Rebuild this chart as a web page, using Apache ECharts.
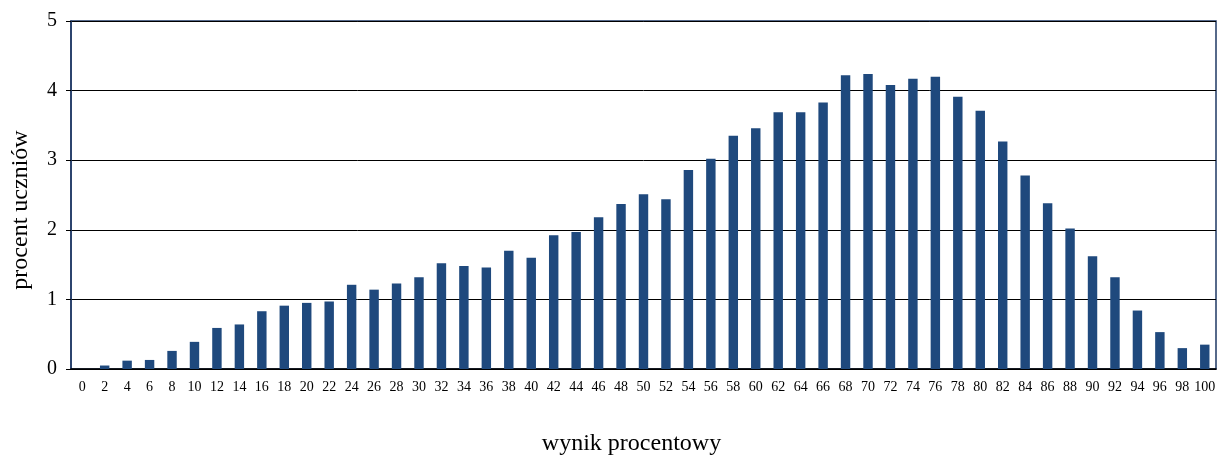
<!DOCTYPE html>
<html>
<head>
<meta charset="utf-8">
<script src="https://cdn.jsdelivr.net/npm/echarts@6/dist/echarts.min.js"></script>
<style>html,body{margin:0;padding:0;background:#fff;}#c{width:1220px;height:461px;}</style>
</head>
<body>
<div id="c"></div>
<script>
const categories = ['0','2','4','6','8','10','12','14','16','18','20','22','24','26','28','30','32','34','36','38','40','42','44','46','48','50','52','54','56','58','60','62','64','66','68','70','72','74','76','78','80','82','84','86','88','90','92','94','96','98','100'];
const values = [0,0.05,0.12,0.13,0.26,0.39,0.59,0.64,0.83,0.91,0.95,0.97,1.21,1.14,1.23,1.32,1.52,1.48,1.46,1.70,1.60,1.92,1.97,2.18,2.37,2.51,2.44,2.86,3.02,3.35,3.46,3.69,3.69,3.83,4.22,4.24,4.08,4.17,4.20,3.91,3.71,3.27,2.78,2.38,2.02,1.62,1.32,0.84,0.53,0.30,0.35];
const xTitle = 'wynik procentowy';
const yTitle = 'procent uczniów';

const chart = echarts.init(document.getElementById('c'));
const serif = '"Liberation Serif", "Times New Roman", serif';
chart.setOption({
  animation: false,
  backgroundColor: '#ffffff',
  grid: {left: 71, right: 4, top: 21, bottom: 86, show: true, borderColor: '#1f3864', borderWidth: 1.5, backgroundColor: 'transparent'},
  xAxis: {
    type: 'category',
    data: categories,
    boundaryGap: true,
    name: xTitle,
    nameLocation: 'middle',
    nameGap: 63,
    nameTextStyle: {fontFamily: serif, fontSize: 24, color: '#000', padding: [0, 24, 0, 0]},
    axisLine: {lineStyle: {color: '#000', width: 1.5}},
    axisTick: {alignWithLabel: false, length: 5, lineStyle: {color: '#000'}},
    axisLabel: {interval: 0, fontFamily: serif, fontSize: 14, color: '#000', margin: 11}
  },
  yAxis: {
    type: 'value',
    min: 0, max: 5, interval: 1,
    name: yTitle,
    nameLocation: 'middle',
    nameRotate: 90,
    nameGap: 38,
    nameTextStyle: {fontFamily: serif, fontSize: 24, color: '#000', padding: [0, 30, 0, 0]},
    axisLine: {show: true, lineStyle: {color: '#1f3864', width: 1.5}},
    axisTick: {show: true, length: 5, lineStyle: {color: '#000'}},
    axisLabel: {fontFamily: serif, fontSize: 20, color: '#000', margin: 14},
    splitLine: {lineStyle: {color: '#000', width: 1}}
  },
  series: [{
    type: 'bar',
    data: values,
    barWidth: '42%',
    itemStyle: {color: '#1f497d'}
  }]
});
</script>
</body>
</html>
